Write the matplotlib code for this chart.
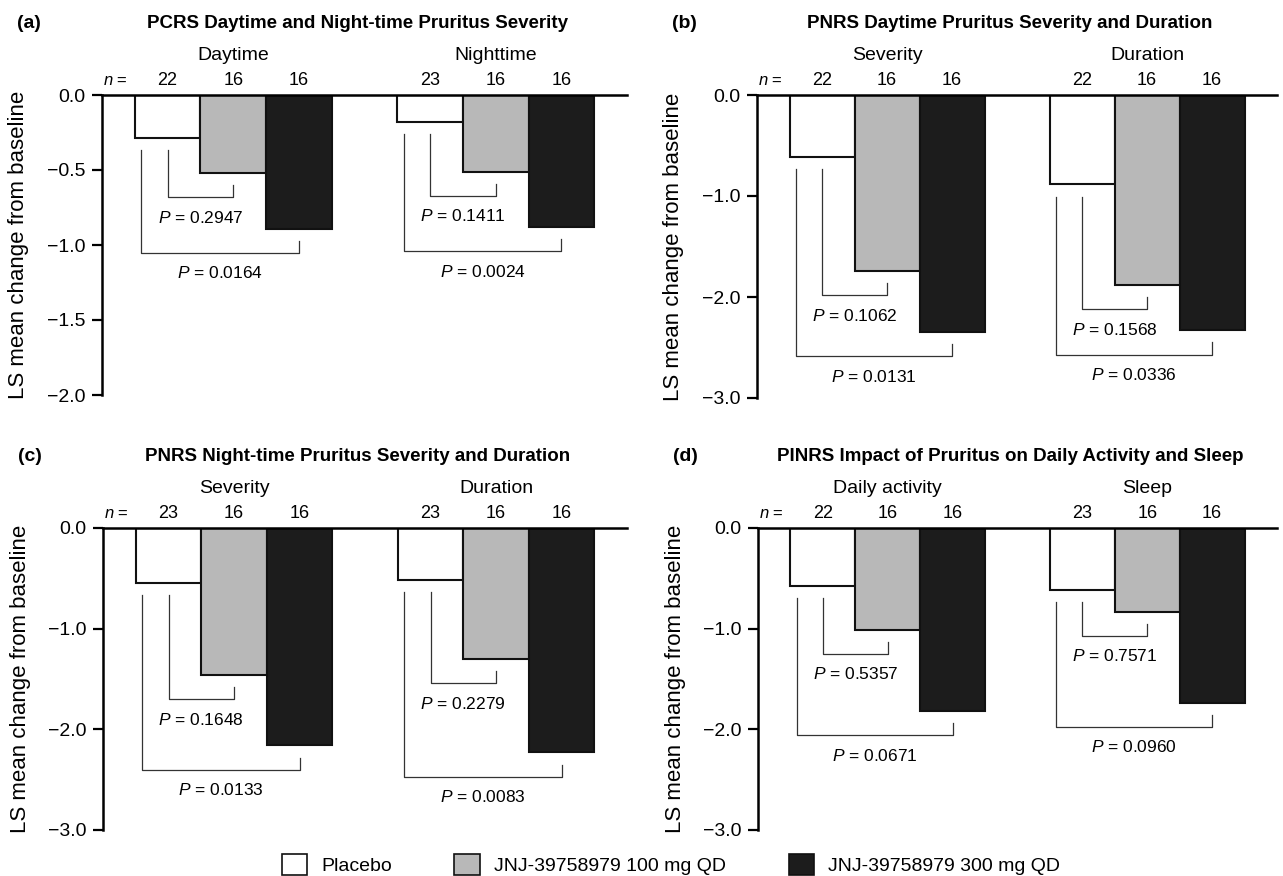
import numpy as np
import matplotlib
matplotlib.use("Agg")
import matplotlib.pyplot as plt
from matplotlib.patches import Patch

plt.rcParams['font.family'] = ['Liberation Sans', 'DejaVu Sans']
plt.rcParams['mathtext.fontset'] = 'custom'
plt.rcParams['mathtext.rm'] = 'Liberation Sans'
plt.rcParams['mathtext.it'] = 'Liberation Sans:italic'

# data
letters = ['(a)', '(b)', '(c)', '(d)']
titles = ['PCRS Daytime and Night-time Pruritus Severity',
          'PNRS Daytime Pruritus Severity and Duration',
          'PNRS Night-time Pruritus Severity and Duration',
          'PINRS Impact of Pruritus on Daily Activity and Sleep']
groups = [['Daytime', 'Nighttime'],
          ['Severity', 'Duration'],
          ['Severity', 'Duration'],
          ['Daily activity', 'Sleep']]
placebo = [[-0.285, -0.183], [-0.61, -0.885], [-0.55, -0.52], [-0.575, -0.62]]
dose100 = [[-0.523, -0.51], [-1.745, -1.88], [-1.46, -1.30], [-1.01, -0.83]]
dose300 = [[-0.892, -0.883], [-2.345, -2.33], [-2.16, -2.23], [-1.82, -1.735]]
n_pla = [[22, 23], [22, 22], [23, 23], [22, 23]]
n_100 = [[16, 16], [16, 16], [16, 16], [16, 16]]
n_300 = [[16, 16], [16, 16], [16, 16], [16, 16]]
p_100 = [['0.2947', '0.1411'], ['0.1062', '0.1568'], ['0.1648', '0.2279'], ['0.5357', '0.7571']]
p_300 = [['0.0164', '0.0024'], ['0.0131', '0.0336'], ['0.0133', '0.0083'], ['0.0671', '0.0960']]
yticks = [[0, -0.5, -1.0, -1.5, -2.0], [0, -1, -2, -3], [0, -1, -2, -3], [0, -1, -2, -3]]
ylabel = 'LS mean change from baseline'
legend_labels = ['Placebo', 'JNJ-39758979 100 mg QD', 'JNJ-39758979 300 mg QD']
colors = ['white', '#b8b8b8', '#1c1c1c']

W, H = 1283, 876
# axes boxes in pixels: left, right, y of 0, y of bottom
boxes = [(102, 627, 95, 395), (757, 1277, 95, 398),
         (103, 627, 528, 830), (758, 1277, 528, 830)]


def bracket(ax, x0, x1, ystart, yend, ybot, rng, label):
    ax.plot([x0, x0, x1, x1], [ystart, ybot, ybot, yend], color='#333333', lw=0.9)
    ax.text((x0 + x1) / 2, ybot - 0.068 * rng, '$P$ = ' + label, ha='center', va='center',
            fontsize=12.5)


def panel(ax, i):
    ymin = yticks[i][-1]
    rng = -ymin
    d = 0.04 * rng
    for g in range(2):
        c = 1 + 4 * g
        vals = [placebo[i][g], dose100[i][g], dose300[i][g]]
        ns = [n_pla[i][g], n_100[i][g], n_300[i][g]]
        ax.bar([c, c + 1, c + 2], vals, width=1.0, color=colors, edgecolor='#111111', lw=1.5, zorder=2)
        for k in range(3):
            ax.annotate(str(ns[k]), (c + k, 1), xycoords=('data', 'axes fraction'),
                        xytext=(0, 7), textcoords='offset points', ha='center', va='baseline', fontsize=13)
        ax.annotate(groups[i][g], (c + 1, 1), xycoords=('data', 'axes fraction'),
                    xytext=(0, 25), textcoords='offset points', ha='center', va='baseline', fontsize=14)
        # inner bracket placebo vs 100 mg
        bracket(ax, c, c + 1, vals[0] - d, vals[1] - d, vals[1] - 2 * d, rng, p_100[i][g])
        # outer bracket placebo vs 300 mg
        bracket(ax, c - 0.4, c + 2, vals[0] - d, vals[2] - d, vals[2] - 2 * d, rng, p_300[i][g])
    ax.annotate('$n$ =', (0.2, 1), xycoords=('data', 'axes fraction'),
                xytext=(0, 7), textcoords='offset points', ha='center', va='baseline', fontsize=12)
    ax.annotate(titles[i], (0.486, 1), xycoords='axes fraction', xytext=(0, 48),
                textcoords='offset points', ha='center', va='baseline', fontsize=13.5, fontweight='bold')
    ax.annotate(letters[i], (0, 1), xycoords='axes fraction', xytext=(-61, 48),
                textcoords='offset points', ha='left', va='baseline', fontsize=14, fontweight='bold')
    ax.set_xlim(0, 8)
    ax.set_ylim(ymin, 0)
    ax.set_xticks([])
    ax.set_yticks(yticks[i])
    ax.set_yticklabels([('%.1f' % v).replace('-', '\u2212') for v in yticks[i]], fontsize=14)
    ax.tick_params(axis='y', length=7, width=1.6, pad=5, direction='out')
    for s in ['right', 'bottom']:
        ax.spines[s].set_visible(False)
    ax.spines['left'].set_linewidth(1.8)
    ax.spines['top'].set_linewidth(1.8)
    ax.set_ylabel(ylabel, fontsize=16, va='center')


def main():
    fig = plt.figure(figsize=(W / 100, H / 100), dpi=100)
    for i, (l, r, top, bot) in enumerate(boxes):
        ax = fig.add_axes([l / W, (H - bot) / H, (r - l) / W, (bot - top) / H])
        panel(ax, i)
        ax.yaxis.set_label_coords(-83 / (r - l), 0.5)

    handles = [Patch(facecolor=c, edgecolor='#111111', lw=1.2) for c in colors]
    fig.legend(handles, legend_labels, loc='center', bbox_to_anchor=(0.523, 0.013), ncol=3,
               frameon=False, fontsize=14, handlelength=1.3, handleheight=1.3,
               handletextpad=0.75, columnspacing=3.2, borderpad=0)
    fig.savefig('out.png', dpi=100)


if __name__ == "__main__":
    main()
